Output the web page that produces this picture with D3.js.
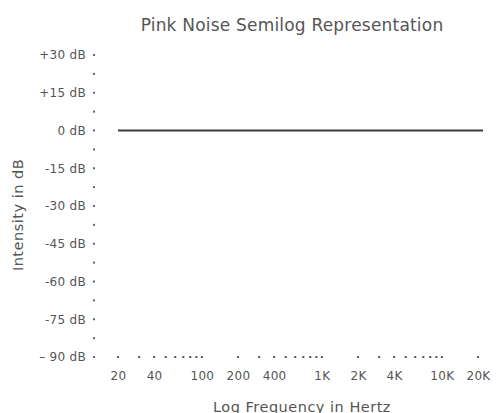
<!DOCTYPE html>
<html><head><meta charset="utf-8">
<script src="https://cdn.jsdelivr.net/npm/d3@7"></script>
<style>body{margin:0;background:#fff}svg{display:block}text{font-family:"DejaVu Sans",sans-serif;fill:#555}</style>
</head><body>
<svg id="c" width="499" height="413"></svg>
<script>
const freqs = [20, 22000];
const levels = [0, 0];
const yTickValues = [30, 15, 0, -15, -30, -45, -60, -75, -90];
const yTickLabels = ["+30 dB", "+15 dB", "0 dB", "-15 dB", "-30 dB", "-45 dB", "-60 dB", "-75 dB", "\u2013 90 dB"];
const yMinor = [22.5, 7.5, -7.5, -22.5, -37.5, -52.5, -67.5, -82.5];
const xTickValues = [20, 40, 100, 200, 400, 1000, 2000, 4000, 10000, 20000];
const xTickLabels = ["20", "40", "100", "200", "400", "1K", "2K", "4K", "10K", "20K"];

const svg = d3.select("#c");
const x = d3.scaleLog().domain([20, 20000]).range([118, 478]);
const y = d3.scaleLinear().domain([-90, 30]).range([357, 55]);
const axisX = 94, axisY = 357;

svg.append("text").attr("x", 292).attr("y", 31).attr("text-anchor", "middle")
  .style("font-size", "17px").style("letter-spacing", "0.2px").attr("fill", "#444")
  .text("Pink Noise Semilog Representation");

// y axis labels
const ya = svg.append("g").attr("transform", `translate(${axisX},0)`)
  .call(d3.axisLeft(y).tickValues(yTickValues).tickSize(0).tickPadding(8)
    .tickFormat((d, i) => yTickLabels[i]));
ya.select(".domain").remove();
ya.selectAll("text").style("font-size", "12px").style("letter-spacing", "0.3px").attr("fill", "#555");

// y dots
svg.append("g").selectAll("rect").data(yTickValues.concat(yMinor)).join("rect")
  .attr("x", axisX - 1).attr("y", d => y(d) - 1).attr("width", 2).attr("height", 2).attr("fill", "#666");

// x dots
svg.append("g").selectAll("rect").data(x.ticks()).join("rect")
  .attr("x", d => x(d) - 1).attr("y", axisY - 1).attr("width", 2).attr("height", 2).attr("fill", "#555");

// x labels
const xa = svg.append("g").attr("transform", `translate(0,${axisY})`)
  .call(d3.axisBottom(x).tickValues(xTickValues).tickSize(0).tickPadding(14)
    .tickFormat((d, i) => xTickLabels[i]));
xa.select(".domain").remove();
xa.selectAll("text").style("font-size", "12px").style("letter-spacing", "0.3px").attr("fill", "#555");

svg.append("text").attr("x", 302).attr("y", 412).attr("text-anchor", "middle")
  .style("font-size", "14.5px").style("letter-spacing", "0.5px").text("Log Frequency in Hertz");
svg.append("text").attr("transform", "translate(23,215) rotate(-90)").attr("text-anchor", "middle")
  .style("font-size", "14.5px").style("letter-spacing", "0.5px").text("Intensity in dB");

// line
const data = freqs.map((f, i) => ({f, v: levels[i]}));
svg.append("path").datum(data)
  .attr("d", d3.line().x(d => x(d.f)).y(d => y(d.v)))
  .attr("fill", "none").attr("stroke", "#3a3a3a").attr("stroke-width", 2);
</script>
</body></html>
